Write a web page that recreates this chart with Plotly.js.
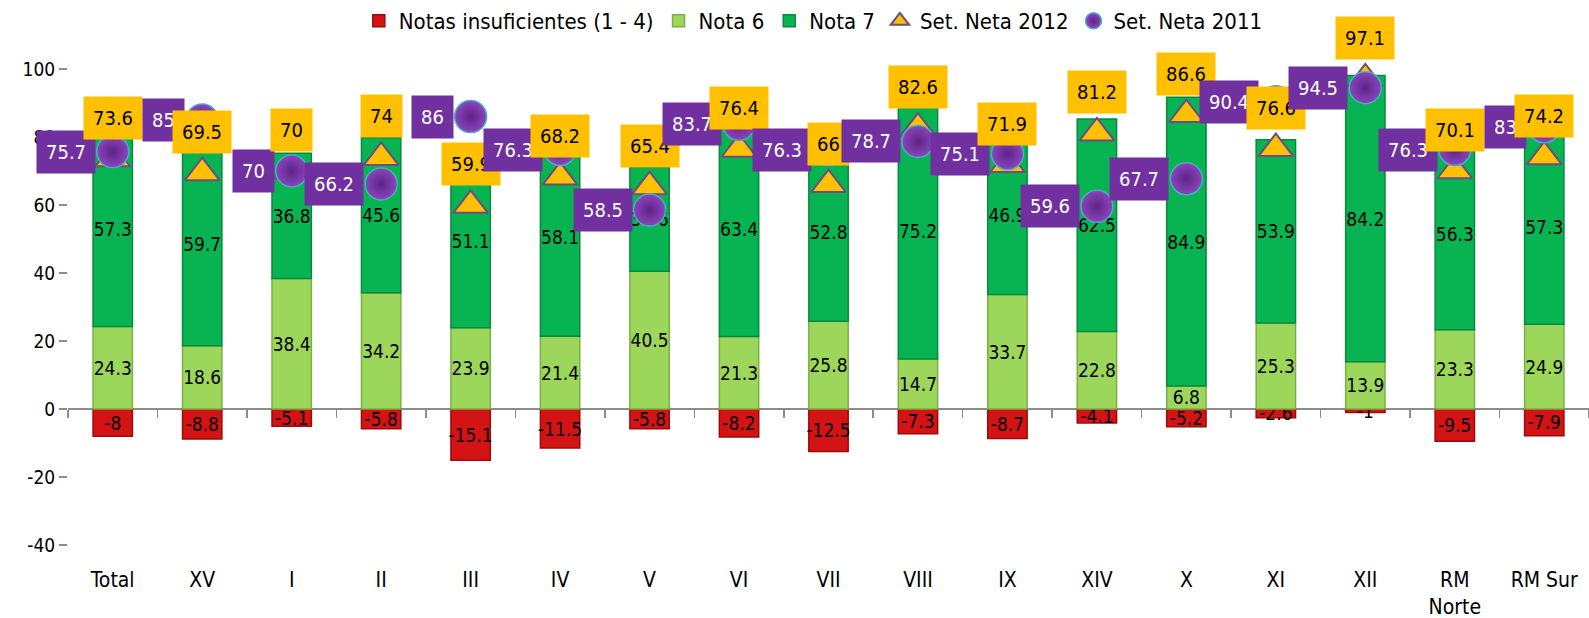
<!DOCTYPE html>
<html>
<head>
<meta charset="utf-8">
<script src="https://cdn.plot.ly/plotly-3.0.1.min.js"></script>
<style>html,body{margin:0;padding:0;background:#fff}#chart{width:1589px;height:618px}</style>
</head>
<body>
<div id="chart"></div>
<script>
const categories = ['Total','XV','I','II','III','IV','V','VI','VII','VIII','IX','XIV','X','XI','XII','RM<br>Norte','RM Sur'];
const notasInsuficientes = [-8,-8.8,-5.1,-5.8,-15.1,-11.5,-5.8,-8.2,-12.5,-7.3,-8.7,-4.1,-5.2,-2.6,-1,-9.5,-7.9];
const nota6 = [24.3,18.6,38.4,34.2,23.9,21.4,40.5,21.3,25.8,14.7,33.7,22.8,6.8,25.3,13.9,23.3,24.9];
const nota7 = [57.3,59.7,36.8,45.6,51.1,58.1,30.6,63.4,52.8,75.2,46.9,62.5,84.9,53.9,84.2,56.3,57.3];
const setNeta2012 = [73.6,69.5,70,74,59.9,68.2,65.4,76.4,66,82.6,71.9,81.2,86.6,76.6,97.1,70.1,74.2];
const setNeta2011 = [75.7,85,70,66.2,86,76.3,58.5,83.7,76.3,78.7,75.1,59.6,67.7,90.4,94.5,76.3,83];
const yTicks = [-40,-20,0,20,40,60,80,100];
const yMin = -40, yMax = 100;

const FONT = '"Liberation Sans Narrow", "DejaVu Sans Condensed", "Liberation Sans", Arial, sans-serif';

function barTrace(name, vals, color, edge) {
  return {
    type: 'bar', name: name, x: categories, y: vals,
    text: vals.map(v => String(v)), textposition: 'inside', insidetextanchor: 'middle',
    textangle: 0, constraintext: 'none',
    textfont: {family: FONT, size: 19, color: '#000'},
    marker: {color: color, line: {color: edge, width: 1.5}},
    width: 0.44, hoverinfo: 'skip'
  };
}

const traces = [
  barTrace('Notas insuficientes (1 - 4)', notasInsuficientes, '#D41414', '#9E0A0A'),
  barTrace('Nota 6', nota6, '#9CD65A', '#7DB043'),
  barTrace('Nota 7', nota7, '#08B452', '#078A3E'),
  {
    type: 'scatter', mode: 'markers', name: 'Set. Neta 2012', x: categories, y: setNeta2012,
    marker: {symbol: 'triangle-up', size: 30, color: '#FFC000', line: {color: '#6A4C86', width: 2}},
    hoverinfo: 'skip', cliponaxis: false
  },
  {
    type: 'scatter', mode: 'markers', name: 'Set. Neta 2011', x: categories, y: setNeta2011,
    marker: {symbol: 'circle', size: 32, color: '#8A45BC', gradient: {type: 'radial', color: '#5E2386'},
             line: {color: '#4BACC6', width: 1.5}},
    hoverinfo: 'skip', cliponaxis: false
  },
  {
    type: 'scatter', mode: 'markers', x: categories, y: categories.map(() => null),
    xaxis: 'x2', yaxis: 'y', showlegend: false, hoverinfo: 'skip'
  }
];

const annotations = [];
categories.forEach((c, i) => {
  annotations.push({
    x: c, y: setNeta2011[i], xref: 'x', yref: 'y', text: String(setNeta2011[i]), showarrow: false,
    xanchor: 'right', yanchor: 'middle', xshift: -17,
    bgcolor: '#7030A0', borderpad: 9, font: {family: FONT, size: 20, color: '#fff'}
  });
  annotations.push({
    x: c, y: setNeta2012[i], xref: 'x', yref: 'y', text: String(setNeta2012[i]), showarrow: false,
    xanchor: 'center', yanchor: 'bottom', yshift: 19,
    bgcolor: '#FFC000', borderpad: 9, font: {family: FONT, size: 20, color: '#000'}
  });
});

const layout = {
  width: 1589, height: 618,
  margin: {l: 68, r: 0, t: 69, b: 73},
  paper_bgcolor: '#fff', plot_bgcolor: '#fff',
  barmode: 'relative', bargap: 0.56,
  font: {family: FONT, color: '#000'},
  showlegend: true,
  legend: {orientation: 'h', x: 0.49, xanchor: 'center', y: 1.0, yanchor: 'top', yref: 'container',
           font: {family: FONT, size: 22, color: '#000'}, itemwidth: 30, traceorder: 'normal',
           bgcolor: 'rgba(0,0,0,0)'},
  xaxis: {
    type: 'category', categoryarray: categories, range: [-0.5, categories.length - 0.5],
    showline: false, showgrid: false, zeroline: false, ticks: '',
    ticklabelstandoff: 20, tickfont: {family: FONT, size: 21, color: '#000'}
  },
  xaxis2: {
    type: 'category', categoryarray: categories, range: [-0.5, categories.length - 0.5],
    overlaying: 'x', anchor: 'free', position: (0 - yMin) / (yMax - yMin),
    showline: true, linecolor: '#8C8C8C', linewidth: 2, layer: 'below traces',
    ticks: 'outside', tickson: 'boundaries', ticklen: 8, tickcolor: '#8C8C8C', tickwidth: 1.5,
    showticklabels: false, showgrid: false, zeroline: false
  },
  yaxis: {
    range: [yMin, yMax], tickvals: yTicks, ticktext: yTicks.map(String),
    showline: false, showgrid: false, zeroline: false,
    ticks: 'outside', ticklen: 8, tickcolor: '#8C8C8C', tickwidth: 1.5,
    tickfont: {family: FONT, size: 19, color: '#000'}
  },
  annotations: annotations
};

Plotly.newPlot('chart', traces, layout, {displayModeBar: false, staticPlot: true});
</script>
</body>
</html>
